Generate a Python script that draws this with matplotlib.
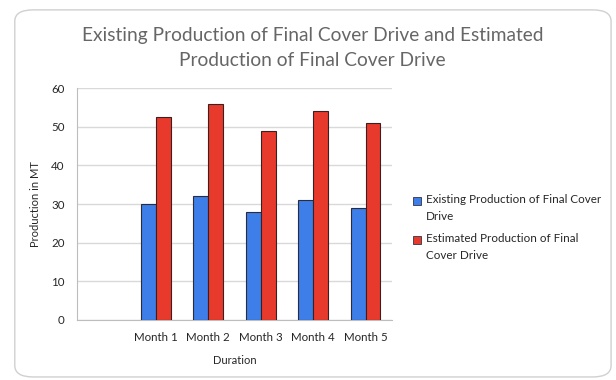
import matplotlib.pyplot as plt
from matplotlib.patches import FancyBboxPatch, Rectangle
import numpy as np

# production figures per month (first slot on the axis is left blank)
meses = ["", "Month 1", "Month 2", "Month 3", "Month 4", "Month 5"]
existente = [np.nan, 30, 32, 28, 31, 29]
estimada = [np.nan, 52.5, 56, 49, 54, 51]

etiqueta_existente = "Existing Production of Final Cover\nDrive"
etiqueta_estimada = "Estimated Production of Final\nCover Drive"
titulo = "Existing Production of Final Cover Drive and Estimated\nProduction of Final Cover Drive"

color_existente = "#3d7ee8"
color_estimada = "#e83a2c"

plt.rcParams['font.family'] = ['Lato', 'DejaVu Sans']

fig = plt.figure(figsize=(6.16, 3.8), dpi=100)
fig.patch.set_facecolor("white")

# rounded chart frame
marco = FancyBboxPatch((0.024, 0.008), 0.968, 0.966, boxstyle="round,pad=0,rounding_size=0.03",
                       transform=fig.transFigure, facecolor="none", edgecolor="#d0d0d0",
                       linewidth=1.0, zorder=-5)
fig.patches.append(marco)

ax = fig.add_axes([0.125, 0.158, 0.511, 0.610])
ax.set_facecolor("none")

x = np.arange(len(meses))
ancho = 0.285
ax.bar(x - ancho / 2, existente, ancho, color=color_existente, edgecolor="#2b2b3a", linewidth=0.8, zorder=3)
ax.bar(x + ancho / 2, estimada, ancho, color=color_estimada, edgecolor="#3a2020", linewidth=0.8, zorder=3)

ax.set_xlim(-0.5, len(meses) - 0.5)
ax.set_ylim(0, 60)
ax.set_yticks(range(0, 61, 10))
ax.set_xticks(x)
ax.set_xticklabels(meses)
ax.tick_params(axis="both", length=0, labelsize=8.3, colors="#262626")
ax.tick_params(axis="x", pad=9)
ax.tick_params(axis="y", pad=9)
ax.grid(axis="y", color="#d9d9d9", linewidth=1.0, zorder=0)

for lado in ["top", "right"]:
    ax.spines[lado].set_visible(False)
for lado in ["left", "bottom"]:
    ax.spines[lado].set_color("#bdbdbd")

ax.set_ylabel("Production in MT", fontsize=8, color="#262626", labelpad=7)
ax.set_xlabel("Duration", fontsize=8, color="#262626", labelpad=8)

fig.text(0.507, 0.873, titulo, ha="center", va="center", fontsize=13.8, color="#666666",
         linespacing=1.6)

# legend drawn by hand so the swatch sits on the first line of each label
entradas = [(etiqueta_existente, color_existente, 0.4895),
            (etiqueta_estimada, color_estimada, 0.387)]
for texto, color, y_sup in entradas:
    fig.patches.append(Rectangle((0.671, y_sup - 0.030), 0.013, 0.021, transform=fig.transFigure,
                                 facecolor=color, edgecolor="#333344", linewidth=0.6))
    fig.text(0.692, y_sup, texto, ha="left", va="top", fontsize=8.4, color="#262626",
             linespacing=1.65)

fig.savefig("out.png", dpi=100, facecolor="white")
